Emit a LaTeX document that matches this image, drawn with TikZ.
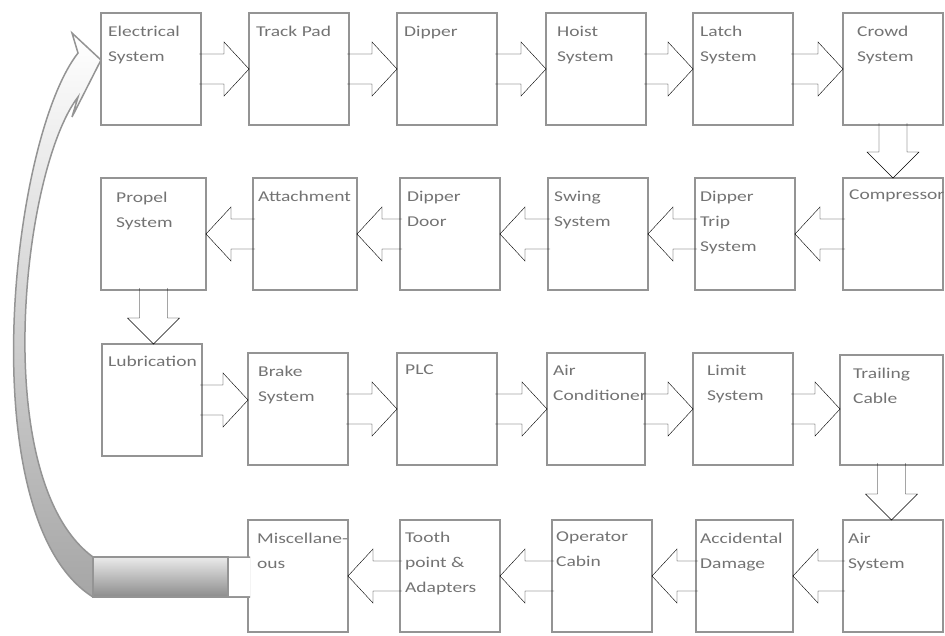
\documentclass[tikz,border=0pt]{standalone}
\usepackage{fontspec}
\newfontfamily\boxfont[FakeStretch=1.3]{Carlito}
\usepackage{tikz}
\usetikzlibrary{calc}
\definecolor{boxgray}{gray}{0.58}
\definecolor{textgray}{gray}{0.45}

\begin{document}
\begin{tikzpicture}[x=1pt, y=-1pt,
        stage/.style={draw=boxgray, line width=2pt, anchor=north west, minimum width=#1, minimum height=112pt, inner sep=0pt, outer sep=0pt},
        stage/.default=100pt,
        stagetext/.style={anchor=north west, inner sep=0pt, align=left, text=textgray, font=\boxfont\fontsize{15}{25}\selectfont},
        blockarrow/.style={draw=boxgray, fill=white, line width=1.8pt, line join=miter},
        rarr/.style={blockarrow, to path={($(\tikztostart)+(-2,-15)$) -- ($(\tikztotarget)+(-25,-15)$) -- ($(\tikztotarget)+(-25,-27)$) -- (\tikztotarget) -- ($(\tikztotarget)+(-25,27)$) -- ($(\tikztotarget)+(-25,15)$) -- ($(\tikztostart)+(-2,15)$)}},
        larr/.style={blockarrow, to path={($(\tikztostart)+(2,-15)$) -- ($(\tikztotarget)+(25,-15)$) -- ($(\tikztotarget)+(25,-27)$) -- (\tikztotarget) -- ($(\tikztotarget)+(25,27)$) -- ($(\tikztotarget)+(25,15)$) -- ($(\tikztostart)+(2,15)$)}},
        darr/.style={blockarrow, to path={($(\tikztostart)+(-14,-2)$) -- ($(\tikztotarget)+(-14,-26)$) -- ($(\tikztotarget)+(-26,-26)$) -- (\tikztotarget) -- ($(\tikztotarget)+(26,-26)$) -- ($(\tikztotarget)+(14,-26)$) -- ($(\tikztostart)+(14,-2)$)}},
    ]
    \useasboundingbox (0,0) rectangle (945,635);
    % row 1
    \node[stage] (elec) at (101,13) {};
    \node[stage] (trackpad) at (249,13) {};
    \node[stage] (dipper) at (397,13) {};
    \node[stage] (hoist) at (546,13) {};
    \node[stage] (latch) at (693,13) {};
    \node[stage] (crowd) at (843,13) {};
    % row 2
    \node[stage=105pt] (propel) at (101,178) {};
    \node[stage=104pt] (attach) at (253,178) {};
    \node[stage] (ddoor) at (400,178) {};
    \node[stage] (swing) at (548,178) {};
    \node[stage] (trip) at (695,178) {};
    \node[stage] (comp) at (843,178) {};
    % row 3
    \node[stage] (lub) at (102,344) {};
    \node[stage] (brake) at (248,353) {};
    \node[stage] (plc) at (397,353) {};
    \node[stage=98pt] (aircon) at (547,353) {};
    \node[stage] (limit) at (693,353) {};
    \node[stage=103pt, minimum height=110pt] (trail) at (840,355) {};
    % row 4
    \node[stage] (misc) at (248,520) {};
    \node[stage] (tooth) at (400,520) {};
    \node[stage] (operator) at (552,520) {};
    \node[stage=97pt] (accident) at (696,520) {};
    \node[stage] (airsys) at (843,520) {};

    % block arrows
    \draw (elec.east) to[rarr] (trackpad.west);
    \draw (trackpad.east) to[rarr] (dipper.west);
    \draw (dipper.east) to[rarr] (hoist.west);
    \draw (hoist.east) to[rarr] (latch.west);
    \draw (latch.east) to[rarr] (crowd.west);
    \draw (crowd.south) to[darr] (comp.north);
    \draw (comp.west) to[larr] (trip.east);
    \draw (trip.west) to[larr] (swing.east);
    \draw (swing.west) to[larr] (ddoor.east);
    \draw (ddoor.west) to[larr] (attach.east);
    \draw (attach.west) to[larr] (propel.east);
    \draw (propel.south) to[darr] (propel.south |- lub.north);
    \draw (lub.east) to[rarr] (lub.east -| brake.west);
    \draw (brake.east) to[rarr] (plc.west);
    \draw (plc.east) to[rarr] (aircon.west);
    \draw (aircon.east) to[rarr] (limit.west);
    \draw (limit.east) to[rarr] (limit.east -| trail.west);
    \draw (trail.south) to[darr] (trail.south |- airsys.north);
    \draw (airsys.west) to[larr] (accident.east);
    \draw (accident.west) to[larr] (operator.east);
    \draw (operator.west) to[larr] (tooth.east);
    \draw (tooth.west) to[larr] (misc.east);

    % curved arrow back to the start
    \shade[draw=boxgray, line width=1.5pt, top color=white, middle color=white, bottom color=black!35]
        ($(misc.west)+(2,-19)$) -- ($(misc.west)+(-155,-19)$)
        .. controls (-12,480) and (22,170) .. ($(elec.west)+(-23,28)$)
        -- ($(elec.west)+(-29,48)$) -- ($(elec.west)+(0,-9)$) -- ($(elec.west)+(-29,-36)$)
        -- ($(elec.west)+(-23,-16)$)
        .. controls (10,140) and (-30,520) .. ($(misc.west)+(-155,21)$)
        -- ($(misc.west)+(2,21)$);
    \shade[draw=boxgray, line width=1.2pt, top color=black!8, bottom color=black!45]
        ($(misc.west)+(-155,-19)$) rectangle ($(misc.west)+(-20,21)$);
    \fill[white] ($(misc.west)+(-19.4,-18.2)$) rectangle ($(misc.west)+(2,20.2)$);

    % labels
    \node[stagetext] (elec-txt) at ($(elec.north west)+(7,13)$) {Electrical\\System};
    \node[stagetext] (trackpad-txt) at ($(trackpad.north west)+(7,13)$) {Track Pad};
    \node[stagetext] (dipper-txt) at ($(dipper.north west)+(7,13)$) {Dipper};
    \node[stagetext] (hoist-txt) at ($(hoist.north west)+(11,13)$) {Hoist\\System};
    \node[stagetext] (latch-txt) at ($(latch.north west)+(7,13)$) {Latch\\System};
    \node[stagetext] (crowd-txt) at ($(crowd.north west)+(14,13)$) {Crowd\\System};
    \node[stagetext] (propel-txt) at ($(propel.north west)+(15,14)$) {Propel\\System};
    \node[stagetext] (attach-txt) at ($(attach.north west)+(5,13)$) {Attachment};
    \node[stagetext] (ddoor-txt) at ($(ddoor.north west)+(7,13)$) {Dipper\\Door};
    \node[stagetext] (swing-txt) at ($(swing.north west)+(6,13)$) {Swing\\System};
    \node[stagetext] (trip-txt) at ($(trip.north west)+(5,13)$) {Dipper\\Trip\\System};
    \node[stagetext] (comp-txt) at ($(comp.north west)+(6,12)$) {Compressor};
    \node[stagetext] (lub-txt) at ($(lub.north west)+(6,12)$) {Lubrication};
    \node[stagetext] (brake-txt) at ($(brake.north west)+(10,13)$) {Brake\\System};
    \node[stagetext] (plc-txt) at ($(plc.north west)+(8,12)$) {PLC};
    \node[stagetext] (aircon-txt) at ($(aircon.north west)+(6,12)$) {Air\\Conditioner};
    \node[stagetext] (limit-txt) at ($(limit.north west)+(14,12)$) {Limit\\System};
    \node[stagetext] (trail-txt) at ($(trail.north west)+(13,13)$) {Trailing\\Cable};
    \node[stagetext] (misc-txt) at ($(misc.north west)+(9,13)$) {Miscellane-\\ous};
    \node[stagetext] (tooth-txt) at ($(tooth.north west)+(5,12)$) {Tooth\\point \&\\Adapters};
    \node[stagetext] (operator-txt) at ($(operator.north west)+(4,12)$) {Operator\\Cabin};
    \node[stagetext] (accident-txt) at ($(accident.north west)+(4,13)$) {Accidental\\Damage};
    \node[stagetext] (airsys-txt) at ($(airsys.north west)+(5,13)$) {Air\\System};
\end{tikzpicture}
\end{document}
